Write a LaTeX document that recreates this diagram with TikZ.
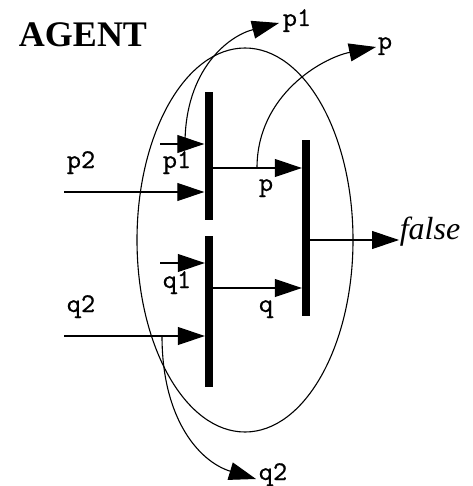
\documentclass[tikz,border=0pt]{standalone}
\usepackage{fontspec}
\setmainfont{Liberation Serif}
\newfontfamily\monofont[FakeBold=0.5]{lmmono10-regular.otf}
\usetikzlibrary{arrows.meta,shapes.geometric}
\tikzset{
  bar/.style={fill=black,draw=none,minimum width=8pt,inner sep=0pt,rectangle},
  conn/.style={line width=1.1pt,-{Triangle[length=27pt,width=18pt]}},
  lbl/.style={font=\monofont\fontsize{27}{27}\selectfont,anchor=base,inner sep=0pt},
}
\begin{document}
\begin{tikzpicture}[x=1pt,y=-1pt]
\useasboundingbox (0,0) rectangle (472,486);
% agent ellipse
\node[draw,line width=1.1pt,ellipse,minimum width=216pt,minimum height=384pt,inner sep=0pt] (agent) at (245,240) {};
\node[font=\bfseries\fontsize{36}{36}\selectfont,anchor=base,inner sep=0pt] (title) at (83,47) {AGENT};
% bars
\node[bar,minimum height=128pt] (bar1) at (208.5,156) {};
\node[bar,minimum height=151pt] (bar2) at (209,311.5) {};
\node[bar,minimum height=176pt] (bar3) at (306,228) {};
% input coordinates
\coordinate (inp1) at (160,144);
\coordinate (inp2) at (64,192);
\coordinate (inq1) at (160,263);
\coordinate (inq2) at (64,336);
\coordinate (brp1) at (185,144);
\coordinate (brp) at (257,168);
\coordinate (brq2) at (162,336);
\coordinate (outp1) at (279,23);
\coordinate (outp) at (376,47);
\coordinate (outq2) at (256,479);
\coordinate (outf) at (399,240);
% connectors
\draw[conn] (inp1) -- (bar1.west |- inp1);
\draw[conn] (inp2) -- (bar1.west |- inp2);
\draw[conn] (inq1) -- (bar2.west |- inq1);
\draw[conn] (inq2) -- (bar2.west |- inq2);
\draw[conn] (bar1.east |- 0,168) -- (bar3.west |- 0,168);
\draw[conn] (bar2.east |- 0,288) -- (bar3.west |- 0,288);
\draw[conn] (bar3.east |- outf) -- (outf);
\draw[conn] (brp1) .. controls (185,70) and (228,36) .. (outp1);
\draw[conn] (brp) .. controls (257,95) and (322,58) .. (outp);
\draw[conn] (brq2) .. controls (162,420) and (200,462) .. (outq2);
% labels
\node[lbl] (lp1) at (177,168) {p1};
\node[lbl] (lp2) at (81,168) {p2};
\node[lbl] (lp) at (266,191) {p};
\node[lbl] (lop1) at (297,26) {p1};
\node[lbl] (lop) at (385,49) {p};
\node[lbl] (lq1) at (177,288) {q1};
\node[lbl] (lq) at (266,312) {q};
\node[lbl] (lq2) at (81,312) {q2};
\node[lbl] (loq2) at (273,480) {q2};
\node[font=\itshape\fontsize{32}{32}\selectfont,anchor=base,inner sep=0pt] (lfalse) at (430,239) {false};
\end{tikzpicture}
\end{document}
